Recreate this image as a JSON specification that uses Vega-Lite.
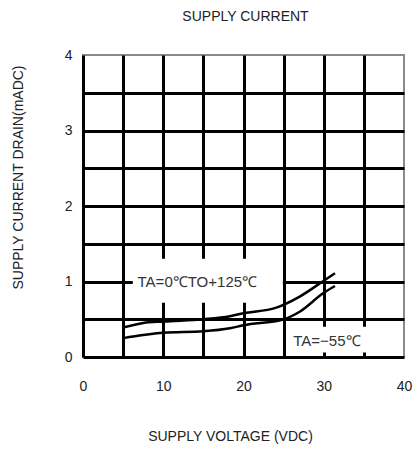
{
  "$schema": "https://vega.github.io/schema/vega-lite/v6.json",
  "width": 321,
  "height": 302,
  "autosize": {"type": "none"},
  "padding": {"left": 83, "top": 55, "right": 9, "bottom": 92},
  "background": "white",
  "title": {
    "text": "SUPPLY CURRENT",
    "frame": "group",
    "anchor": "middle",
    "baseline": "middle",
    "offset": 17,
    "dx": 2,
    "font": "Liberation Sans",
    "fontSize": 14,
    "fontWeight": "normal",
    "color": "#222"
  },
  "datasets": {
    "curves": [
      {"series": "upper", "v": 5, "i": 0.39},
      {"series": "upper", "v": 7.5, "i": 0.45},
      {"series": "upper", "v": 10, "i": 0.47},
      {"series": "upper", "v": 15, "i": 0.5},
      {"series": "upper", "v": 18.3, "i": 0.54},
      {"series": "upper", "v": 20, "i": 0.58},
      {"series": "upper", "v": 24, "i": 0.65},
      {"series": "upper", "v": 27, "i": 0.8},
      {"series": "upper", "v": 30, "i": 1.01},
      {"series": "upper", "v": 31.4, "i": 1.11},
      {"series": "lower", "v": 5, "i": 0.25},
      {"series": "lower", "v": 7.5, "i": 0.29},
      {"series": "lower", "v": 10, "i": 0.32},
      {"series": "lower", "v": 15, "i": 0.34},
      {"series": "lower", "v": 18.3, "i": 0.38},
      {"series": "lower", "v": 20, "i": 0.42},
      {"series": "lower", "v": 25, "i": 0.5},
      {"series": "lower", "v": 27, "i": 0.6},
      {"series": "lower", "v": 30, "i": 0.85},
      {"series": "lower", "v": 31.4, "i": 0.94}
    ],
    "boxes": [
      {"v": 6.2, "v2": 24.9, "i": 0.72, "i2": 1.3},
      {"v": 25.6, "v2": 39.7, "i": 0.06, "i2": 0.4}
    ],
    "labels": [
      {"v": 6.8, "i": 1.0, "text": "TA=0℃TO+125℃"},
      {"v": 26.2, "i": 0.21, "text": "TA=−55℃"}
    ]
  },
  "encoding": {
    "x": {
      "field": "v",
      "type": "quantitative",
      "scale": {"domain": [0, 40], "nice": false, "zero": false},
      "axis": {
        "values": [0, 5, 10, 15, 20, 25, 30, 35, 40],
        "labelExpr": "datum.value % 10 == 0 ? datum.label : ''",
        "ticks": false,
        "domain": false,
        "labelPadding": 22,
        "labelFont": "Liberation Sans",
        "labelFontSize": 14,
        "labelColor": "#222",
        "labelFlush": false,
        "gridColor": {"condition": {"test": "datum.value == 40", "value": "transparent"}, "value": "black"},
        "gridWidth": 3,
        "gridOpacity": 1,
        "title": "SUPPLY VOLTAGE (VDC)",
        "titleFont": "Liberation Sans",
        "titleFontSize": 14,
        "titleFontWeight": "normal",
        "titleColor": "#222",
        "titleX": 147,
        "titleY": 79,
        "titleAlign": "center",
        "titleBaseline": "middle"
      }
    },
    "y": {
      "field": "i",
      "type": "quantitative",
      "scale": {"domain": [0, 4], "nice": false, "zero": false},
      "axis": {
        "values": [0, 0.5, 1, 1.5, 2, 2.5, 3, 3.5, 4],
        "labelExpr": "datum.value % 1 == 0 ? format(datum.value, 'd') : ''",
        "ticks": false,
        "domain": false,
        "labelPadding": 11,
        "labelFont": "Liberation Sans",
        "labelFontSize": 14,
        "labelColor": "#222",
        "labelFlush": false,
        "gridColor": {"condition": {"test": "datum.value == 4", "value": "transparent"}, "value": "black"},
        "gridWidth": 3,
        "gridOpacity": 1,
        "title": "SUPPLY CURRENT DRAIN(mADC)",
        "titleFont": "Liberation Sans",
        "titleFontSize": 14,
        "titleFontWeight": "normal",
        "titleColor": "#222",
        "titleAngle": -90,
        "titleX": -65,
        "titleY": 122,
        "titleAlign": "center",
        "titleBaseline": "middle"
      }
    }
  },
  "layer": [
    {
      "data": {"name": "boxes"},
      "mark": {"type": "rect", "fill": "white"},
      "encoding": {
        "x2": {"field": "v2"},
        "y2": {"field": "i2"}
      }
    },
    {
      "data": {"name": "curves"},
      "mark": {"type": "line", "color": "black", "strokeWidth": 2.5, "interpolate": "monotone"},
      "encoding": {
        "detail": {"field": "series", "type": "nominal"}
      }
    },
    {
      "data": {"name": "labels"},
      "mark": {"type": "text", "align": "left", "baseline": "middle", "font": "Liberation Sans", "fontSize": 15, "color": "#333"},
      "encoding": {
        "text": {"field": "text", "type": "nominal"}
      }
    }
  ],
  "config": {
    "view": {"stroke": "#8a8a8a", "strokeWidth": 2}
  }
}
